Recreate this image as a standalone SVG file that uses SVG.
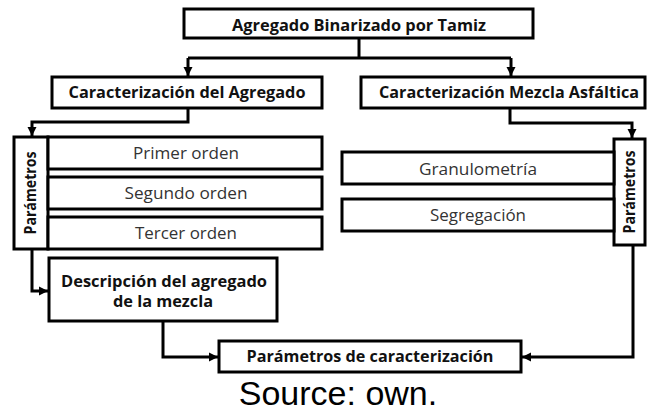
<svg xmlns="http://www.w3.org/2000/svg" width="648" height="412" viewBox="0 0 648 412">
<defs>
<style>
.box{fill:#fff;stroke:#000;stroke-width:3}
.b{font-family:"Open Sans","Liberation Sans",sans-serif;font-weight:bold;font-size:16px;fill:#111;text-anchor:middle}
.r{font-family:"Open Sans","Liberation Sans",sans-serif;font-size:16px;fill:#333;text-anchor:middle}
.c{fill:none;stroke:#000;stroke-width:3;stroke-linejoin:miter}
</style>
<marker id="ah" markerUnits="userSpaceOnUse" markerWidth="10" markerHeight="10" refX="9" refY="5" orient="auto">
<path d="M0,0.5 L9,5 L0,9.5 Z" fill="#000"/>
</marker>
</defs>
<rect width="648" height="412" fill="#fff"/>
<g id="connectors">
<path class="c" d="M359,38 V58"/>
<path class="c" d="M188,58 H511"/>
<path class="c" d="M188,58 V76" marker-end="url(#ah)"/>
<path class="c" d="M511,58 V76" marker-end="url(#ah)"/>
<path class="c" d="M188,108 V122 H32 V136" marker-end="url(#ah)"/>
<path class="c" d="M510,108 V123 H632 V138" marker-end="url(#ah)"/>
<path class="c" d="M32,249 V291 H48" marker-end="url(#ah)"/>
<path class="c" d="M163,321 V357 H218" marker-end="url(#ah)"/>
<path class="c" d="M633,245 V357 H522" marker-end="url(#ah)"/>
</g>
<g id="n-top"><rect class="box" x="184" y="9" width="349" height="29"/><text class="b" x="359" y="31" textLength="254" lengthAdjust="spacingAndGlyphs">Agregado Binarizado por Tamiz</text></g>
<g id="n-carag"><rect class="box" x="52" y="77" width="270" height="31"/><text class="b" x="187" y="98" textLength="237" lengthAdjust="spacingAndGlyphs">Caracterización del Agregado</text></g>
<g id="n-carmez"><rect class="box" x="361" y="77" width="284" height="31"/><text class="b" x="509" y="98" textLength="260" lengthAdjust="spacingAndGlyphs">Caracterización Mezcla Asfáltica</text></g>
<g id="n-paramL"><rect class="box" x="14" y="137" width="34" height="112"/><text class="b" transform="translate(36,193) rotate(-90)" x="0" y="0" font-size="15" textLength="83" lengthAdjust="spacingAndGlyphs">Parámetros</text></g>
<g id="n-primer"><rect class="box" x="48" y="137" width="274" height="32"/><text class="r" x="186" y="159" textLength="106" lengthAdjust="spacingAndGlyphs">Primer orden</text></g>
<g id="n-segundo"><rect class="box" x="48" y="177" width="274" height="32"/><text class="r" x="186" y="199" textLength="123" lengthAdjust="spacingAndGlyphs">Segundo orden</text></g>
<g id="n-tercer"><rect class="box" x="48" y="217" width="274" height="32"/><text class="r" x="186" y="239" textLength="102" lengthAdjust="spacingAndGlyphs">Tercer orden</text></g>
<g id="n-desc"><rect class="box" x="49" y="258" width="228" height="63"/><text class="b" x="164" y="287" textLength="206" lengthAdjust="spacingAndGlyphs">Descripción del agregado</text><text class="b" x="163" y="307" textLength="100" lengthAdjust="spacingAndGlyphs">de la mezcla</text></g>
<g id="n-paramR"><rect class="box" x="614" y="139" width="31" height="106"/><text class="b" transform="translate(635,192) rotate(-90)" x="0" y="0" font-size="15" textLength="83" lengthAdjust="spacingAndGlyphs">Parámetros</text></g>
<g id="n-granu"><rect class="box" x="342" y="152" width="272" height="32"/><text class="r" x="478" y="175" textLength="118" lengthAdjust="spacingAndGlyphs">Granulometría</text></g>
<g id="n-segre"><rect class="box" x="342" y="199" width="272" height="32"/><text class="r" x="478" y="221" textLength="96" lengthAdjust="spacingAndGlyphs">Segregación</text></g>
<g id="n-final"><rect class="box" x="219" y="341" width="302" height="31"/><text class="b" x="370" y="362" font-size="15" textLength="247" lengthAdjust="spacingAndGlyphs">Parámetros de caracterización</text></g>
<text x="338" y="405" font-family="Liberation Sans, Arial, sans-serif" font-size="34" fill="#000" text-anchor="middle">Source: own.</text>
</svg>
